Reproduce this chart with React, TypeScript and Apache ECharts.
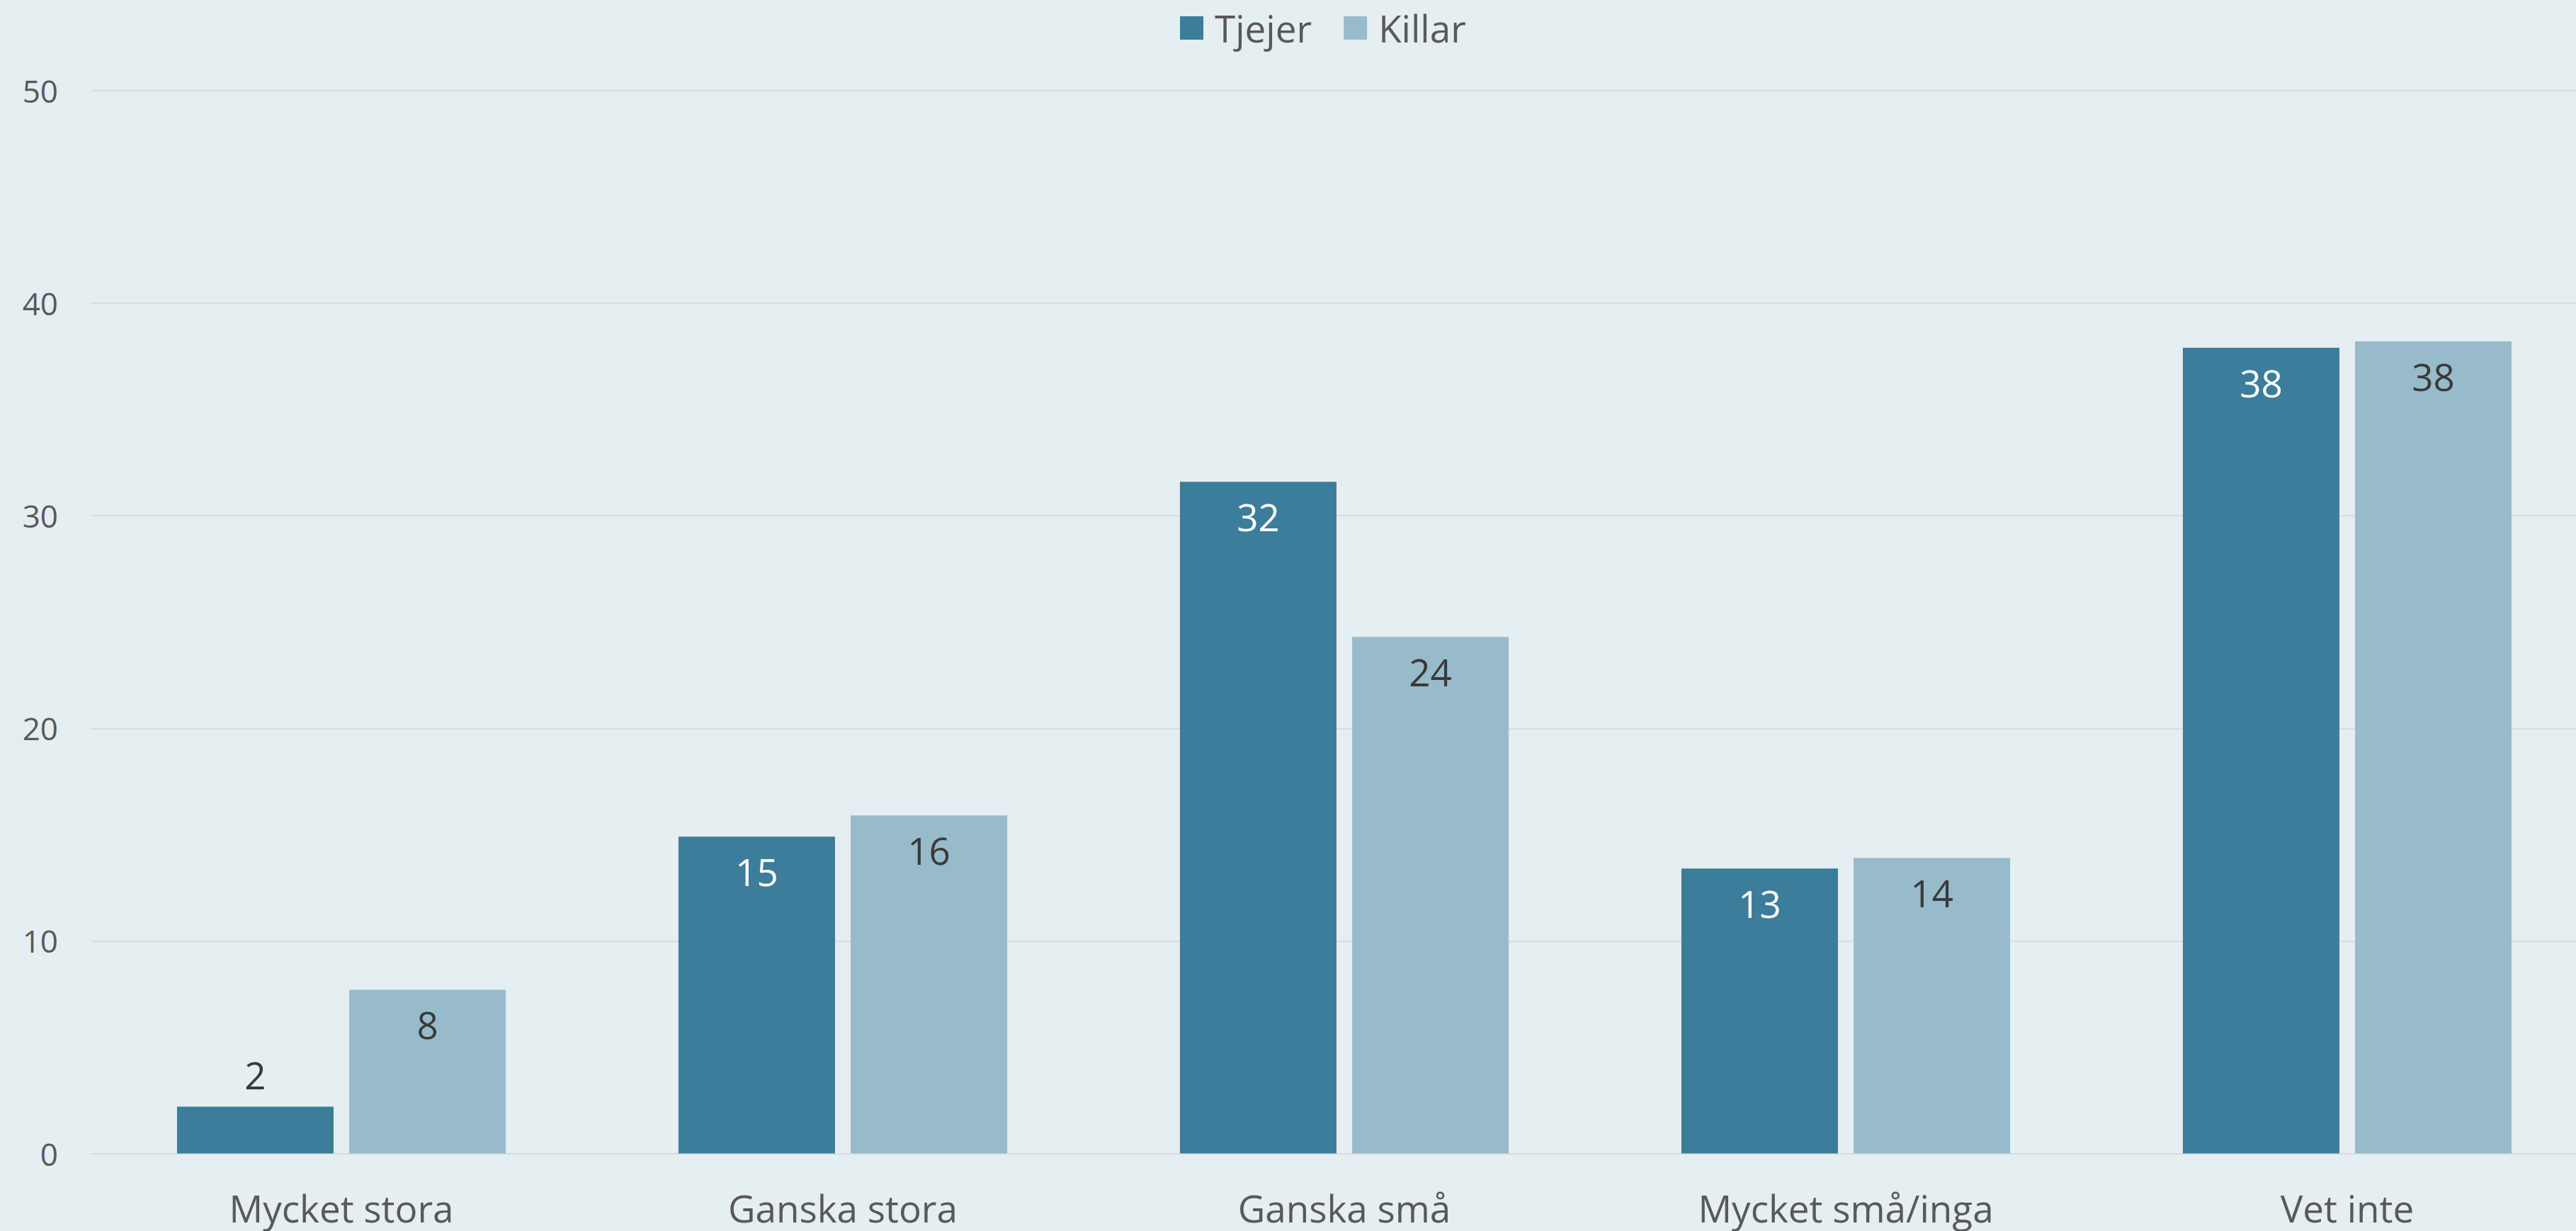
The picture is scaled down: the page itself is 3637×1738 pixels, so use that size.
import React, { useEffect, useRef } from "react";
import * as echarts from "echarts";

const categories = ["Mycket stora", "Ganska stora", "Ganska små", "Mycket små/inga", "Vet inte"];
const tjejer = [2.2, 14.9, 31.6, 13.4, 37.9];
const killar = [7.7, 15.9, 24.3, 13.9, 38.2];
const yTicks = { min: 0, max: 50, interval: 10 };

const FONT = "'Open Sans', 'Noto Sans', sans-serif";

export default function App() {
  const ref = useRef<HTMLDivElement>(null);
  useEffect(() => {
    if (!ref.current) return;
    const chart = echarts.init(ref.current, null, { renderer: "svg" });
    const mkData = (arr: number[], color: string) =>
      arr.map((v) =>
        v < 5
          ? { value: v, label: { position: "top", distance: 18, color: "#3a3a3a" } }
          : { value: v, label: { color } }
      );
    chart.setOption({
      animation: false,
      backgroundColor: "#e5eef1",
      textStyle: { fontFamily: FONT },
      legend: {
        top: 8,
        left: 1661,
        itemWidth: 33,
        itemHeight: 33,
        itemGap: 45,
        icon: "rect",
        textStyle: { fontSize: 53, color: "#595959", fontFamily: FONT, padding: [0, 0, 0, 11] },
        data: ["Tjejer", "Killar"],
      },
      grid: { left: 128, right: 32, top: 128, bottom: 109.5, containLabel: false },
      xAxis: {
        type: "category",
        data: categories,
        axisLine: { show: false },
        axisTick: { show: false },
        axisLabel: { fontSize: 53, color: "#595959", margin: 50, fontFamily: FONT },
      },
      yAxis: {
        type: "value",
        min: yTicks.min,
        max: yTicks.max,
        interval: yTicks.interval,
        axisLine: { show: false },
        axisTick: { show: false },
        axisLabel: { fontSize: 44, color: "#595959", margin: 46, fontFamily: FONT },
        splitLine: { lineStyle: { color: "#d8dcdf", width: 2 } },
      },
      series: [
        {
          name: "Tjejer",
          type: "bar",
          data: mkData(tjejer, "#ffffff"),
          barWidth: 221,
          barGap: "10%",
          itemStyle: { color: "#3b7d9a" },
          label: {
            show: true,
            position: "insideTop",
            distance: 23,
            fontSize: 53,
            fontFamily: FONT,
            formatter: (p: any) => String(Math.round(p.value)),
          },
        },
        {
          name: "Killar",
          type: "bar",
          data: mkData(killar, "#3a3a3a"),
          barWidth: 221,
          barGap: "10%",
          itemStyle: { color: "#97bbca" },
          label: {
            show: true,
            position: "insideTop",
            distance: 23,
            fontSize: 53,
            fontFamily: FONT,
            formatter: (p: any) => String(Math.round(p.value)),
          },
        },
      ],
    });
    return () => chart.dispose();
  }, []);
  return (
    <div
      style={{
        position: "fixed",
        left: 0,
        top: 0,
        width: 3637,
        height: 1738,
        overflow: "hidden",
        background: "#e5eef1",
      }}
    >
      <div ref={ref} style={{ position: "absolute", left: 0, top: 0, width: 3700, height: 1738 }} />
    </div>
  );
}
